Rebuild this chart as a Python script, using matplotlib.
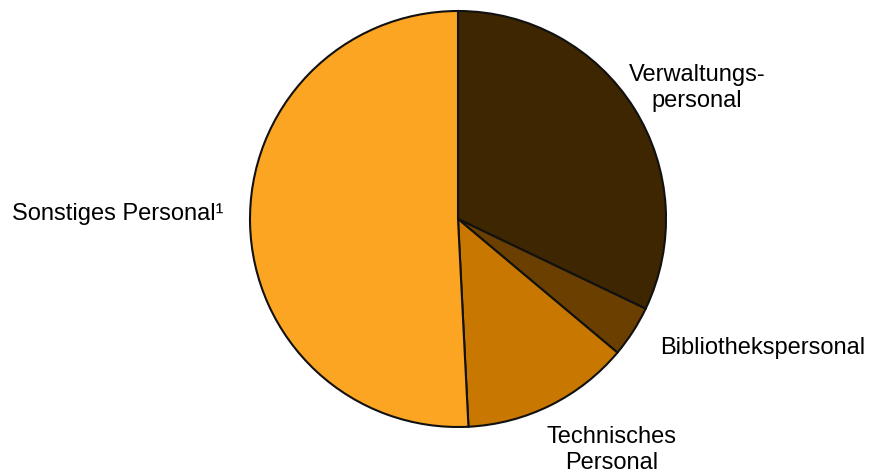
import matplotlib
matplotlib.use('Agg')
import matplotlib.pyplot as plt

labels = ['Verwaltungs-\npersonal', 'Bibliothekspersonal', 'Technisches\nPersonal', 'Sonstiges Personal¹']
shares = [32.1, 4.0, 13.1, 50.8]
colors = ['#3d2600', '#6b3f00', '#c87800', '#fca523']

plt.rcParams['font.family'] = ['Liberation Sans', 'DejaVu Sans']

fig = plt.figure(figsize=(8.71, 4.76), dpi=100)
r_px = 208
cx, cy = 458, 476 - 219
ax = fig.add_axes([(cx - r_px) / 871, (cy - r_px) / 476, 2 * r_px / 871, 2 * r_px / 476])

wedges, texts = ax.pie(shares, colors=colors, startangle=90, counterclock=False,
                       labels=labels, radius=1,
                       wedgeprops=dict(edgecolor='#111111', linewidth=1.5))

# label placement (relative to the pie radius)
label_pos = [(1.149, 0.63, 'center'), (0.972, -0.62, 'left'),
             (0.74, -1.11, 'center'), (-1.126, 0.024, 'right')]
for t, (x, y, ha) in zip(texts, label_pos):
    t.set_position((x, y))
    t.set_ha(ha)
    t.set_va('center')
    t.set_multialignment('center')
    t.set_fontsize(17)
    t.set_clip_on(False)

ax.set_xlim(-1.0, 1.0)
ax.set_ylim(-1.0, 1.0)
ax.set_aspect('auto')
ax.axis('off')

fig.savefig('out.png', dpi=100)
